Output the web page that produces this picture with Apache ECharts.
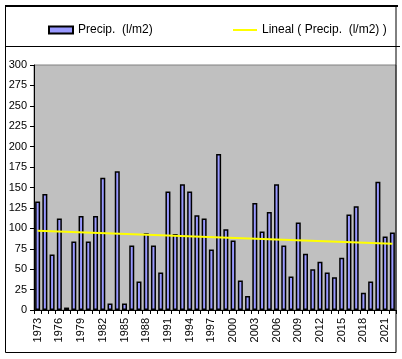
<!DOCTYPE html>
<html>
<head>
<meta charset="utf-8">
<script src="https://cdn.jsdelivr.net/npm/echarts@6/dist/echarts.min.js"></script>
<style>
html,body{margin:0;padding:0;background:#fff;}
#c{width:402px;height:359px;}
</style>
</head>
<body>
<div id="c"></div>
<script>
var years = [];
for (var y = 1973; y <= 2022; y++) years.push(String(y));
var precip = [133,142,68,112,3,84,115,84,115,162,8,170,8,79,35,94,79,46,145,93,
              154,145,116,112,74,191,99,85,36,17,131,96,120,154,79,41,107,69,50,59,
              46,40,64,117,127,21,35,157,90,95];
var trendEnds = [97, 81];
var yTicks = [0,25,50,75,100,125,150,175,200,225,250,275,300];
var barName = 'Precip.  (l/m2)';
var trendName = 'Lineal ( Precip.  (l/m2) )';

var trendData = years.map(function(_, i){
  if (i === 0) return trendEnds[0];
  if (i === years.length - 1) return trendEnds[1];
  return null;
});

var FONT = 'Liberation Sans, Arial, sans-serif';
var chart = echarts.init(document.getElementById('c'), null, {renderer:'canvas'});
chart.setOption({
  animation: false,
  backgroundColor: '#ffffff',
  textStyle: {fontFamily: FONT},
  graphic: [
    {type:'rect', shape:{x:5.5, y:6.5, width:390.5, height:346}, style:{fill:null, stroke:'#000', lineWidth:1}, z:100},
    {type:'line', shape:{x1:5, y1:6, x2:398, y2:6}, style:{stroke:'#000', lineWidth:2}, z:100},
    {type:'line', shape:{x1:5, y1:46.5, x2:400, y2:46.5}, style:{stroke:'#000', lineWidth:1}, z:100}
  ],
  legend: [
    {data:[barName], left:43, top:19, itemWidth:24, itemHeight:7,
     icon:'rect', textStyle:{fontSize:12, color:'#000', fontFamily:FONT}},
    {data:[{name:trendName, icon:'rect'}], left:228, top:19, itemWidth:24, itemHeight:2,
     textStyle:{fontSize:12, color:'#000', fontFamily:FONT}}
  ],
  grid: {left:34, right:6, top:65, bottom:49, show:true, backgroundColor:'#C0C0C0', borderColor:'#808080', borderWidth:1},
  xAxis: {
    type:'category', data: years, boundaryGap:true,
    axisLine:{lineStyle:{color:'#000', width:1}},
    axisTick:{show:true, interval:0, length:4, lineStyle:{color:'#000'}},
    axisLabel:{interval:function(i){return i % 3 === 0;}, rotate:90, margin:8, fontSize:11, color:'#000', fontFamily:FONT}
  },
  yAxis: {
    type:'value', min:0, max:300, interval:25,
    axisLine:{show:true, lineStyle:{color:'#000', width:1}},
    axisTick:{show:true, length:4, lineStyle:{color:'#000'}},
    splitLine:{show:false},
    axisLabel:{margin:7, fontSize:11, color:'#000', fontFamily:FONT,
      formatter:function(v){return yTicks.indexOf(v) >= 0 ? String(v) : '';}}
  },
  series: [
    {name:barName, type:'bar', data:precip, barWidth:5,
     itemStyle:{color:'#9999FF', borderColor:'#000', borderWidth:1.5}},
    {name:trendName, type:'line', data:trendData, connectNulls:true, symbol:'none',
     lineStyle:{color:'#FFFF00', width:2}, itemStyle:{color:'#FFFF00', borderWidth:0}, z:5}
  ]
});
</script>
</body>
</html>
